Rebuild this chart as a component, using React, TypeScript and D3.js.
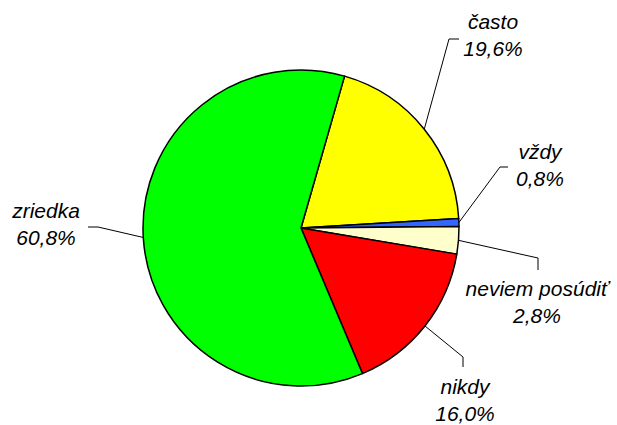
import * as d3 from 'd3';
import { useEffect, useRef } from 'react';

const categories = ['často', 'vždy', 'neviem posúdiť', 'nikdy', 'zriedka'];
const values = [19.6, 0.8, 2.8, 16.0, 60.8];
const colors = ['#FFFF00', '#3366FF', '#FFFFCC', '#FF0000', '#00FF00'];

// leader line elbow + end, and label anchor (chart layout, not data)
const leaders = [
  { elbow: [449, 39], end: [459, 39], label: [493, 29] },
  { elbow: [500, 167], end: [508, 167], label: [540, 159] },
  { elbow: [538, 258], end: [538, 270], label: [537, 296] },
  { elbow: [463, 357], end: [463, 367], label: [465, 394] },
  { elbow: [98, 227], end: [88, 227], label: [46, 218] },
];

const fmt = (v: number) => v.toFixed(1).replace('.', ',') + '%';

export default function App() {
  const svgRef = useRef<SVGSVGElement>(null);

  useEffect(() => {
    if (!svgRef.current) return;
    const svg = d3.select(svgRef.current);
    svg.selectAll('*').remove();

    const cx = 301;
    const cy = 228;
    const r = 158;
    const startAngle = (16 * Math.PI) / 180;

    const pie = d3.pie<number>()
      .sort(null)
      .value((d) => d)
      .startAngle(startAngle)
      .endAngle(startAngle + Math.PI * 2);
    const arcs = pie(values);
    const arc = d3.arc<d3.PieArcDatum<number>>().innerRadius(0).outerRadius(r);

    const g = svg.append('g').attr('transform', `translate(${cx},${cy})`);
    g.selectAll('path')
      .data(arcs)
      .join('path')
      .attr('d', arc)
      .attr('fill', (_, i) => colors[i])
      .attr('stroke', '#000')
      .attr('stroke-width', 1.5)
      .attr('stroke-linejoin', 'round');

    // Leader lines + labels
    arcs.forEach((a, i) => {
      const mid = (a.startAngle + a.endAngle) / 2;
      const px = cx + r * Math.sin(mid);
      const py = cy - r * Math.cos(mid);
      const L = leaders[i];
      svg.append('polyline')
        .attr('points', `${px},${py} ${L.elbow[0]},${L.elbow[1]} ${L.end[0]},${L.end[1]}`)
        .attr('fill', 'none')
        .attr('stroke', '#000')
        .attr('stroke-width', 1);

      const t = svg.append('text')
        .attr('x', L.label[0])
        .attr('y', L.label[1])
        .attr('text-anchor', 'middle')
        .attr('font-family', 'Liberation Sans, Arial, sans-serif')
        .attr('font-style', 'italic')
        .attr('font-size', 21)
        .attr('fill', '#000');
      t.append('tspan').attr('x', L.label[0]).text(categories[i]);
      t.append('tspan').attr('x', L.label[0]).attr('dy', 27).text(fmt(values[i]));
    });
  }, []);

  return (
    <svg
      ref={svgRef}
      width={617}
      height={425}
      style={{ position: 'absolute', left: 0, top: 0, background: '#fff' }}
    />
  );
}
